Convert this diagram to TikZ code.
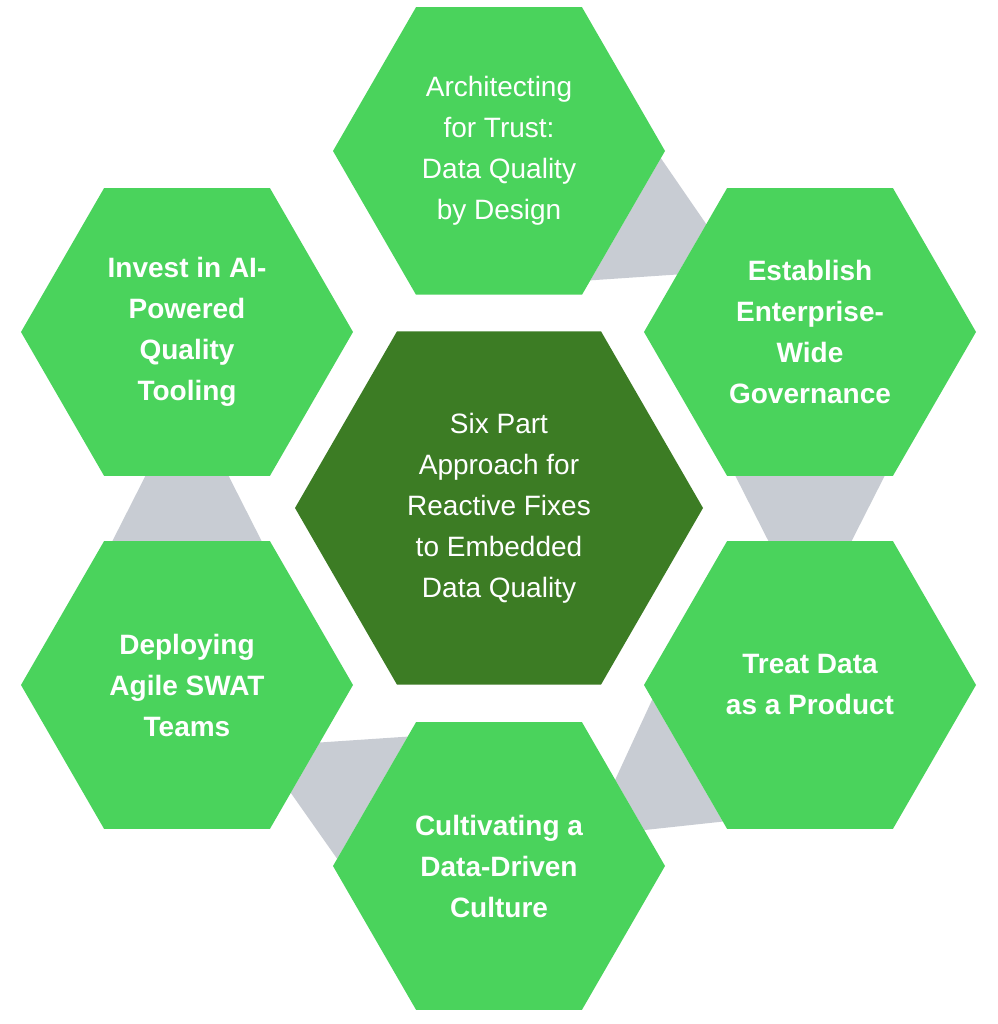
\documentclass[tikz,border=0pt]{standalone}
\usepackage{fontspec}
\setmainfont{Liberation Sans}
\usetikzlibrary{calc}
\definecolor{hexgreen}{RGB}{74,211,92}
\definecolor{hexdark}{RGB}{60,124,36}
\definecolor{linkgray}{RGB}{200,204,211}
\tikzset{
  lbl/.style={text=white,align=center,font=\fontsize{28}{41}\selectfont},
  lblb/.style={lbl,font=\fontsize{28}{41}\selectfont\bfseries},
  linkfill/.style={fill=linkgray,draw=none}
}
\newcommand\hexcoords[4]{%
  \foreach \k in {1,...,6}{\coordinate (#1-\k) at ($(#2,#3)+({60*(\k-1)}:#4)$);}
  \coordinate (#1) at (#2,#3);}
\newcommand\hexfill[2]{\fill[#2] (#1-1)--(#1-2)--(#1-3)--(#1-4)--(#1-5)--(#1-6)--cycle;}
\newcommand\link[6]{\fill[linkgray] ($(#1)!#5!(#2)$)--($(#2)!0.05!(#1)$)--($(#4)!0.25!(#3)$)--($(#3)!#6!(#4)$)--cycle;}
\begin{document}
\begin{tikzpicture}[x=1pt,y=1pt]
\useasboundingbox (0,0) rectangle (997,1024);
\fill[white] (0,0) rectangle (997,1024);
\hexcoords{T}{499}{873}{166}
\hexcoords{UR}{810}{692}{166}
\hexcoords{LR}{810}{339}{166}
\hexcoords{B}{499}{158}{166}
\hexcoords{LL}{187}{339}{166}
\hexcoords{UL}{187}{692}{166}
\hexcoords{C}{499}{516}{204}
\link{T-6}{T-1}{UR-4}{UR-3}{0.1}{0.4}
\link{UR-5}{UR-6}{LR-3}{LR-2}{0.05}{0.25}
\link{LR-4}{LR-5}{B-2}{B-1}{0.1}{0.4}
\link{B-3}{B-4}{LL-1}{LL-6}{0.1}{0.4}
\link{LL-3}{LL-2}{UL-5}{UL-6}{0.05}{0.25}
\foreach \h in {T,UR,LR,B,LL,UL}{\hexfill{\h}{hexgreen}}
\hexfill{C}{hexdark}
\node[lbl] (tT) at (T) {Architecting\\for Trust:\\Data Quality\\by Design};
\node[lblb] (tUR) at (UR) {Establish\\Enterprise-\\Wide\\Governance};
\node[lblb] (tLR) at (LR) {Treat Data\\as a Product};
\node[lblb] (tB) at (B) {Cultivating a\\Data-Driven\\Culture};
\node[lblb] (tLL) at (LL) {Deploying\\Agile SWAT\\Teams};
\node[lblb] (tUL) at (UL) {Invest in AI-\\Powered\\Quality\\Tooling};
\node[lbl] (tC) at (C) {Six Part\\Approach for\\Reactive Fixes\\to Embedded\\Data Quality};
\end{tikzpicture}
\end{document}
